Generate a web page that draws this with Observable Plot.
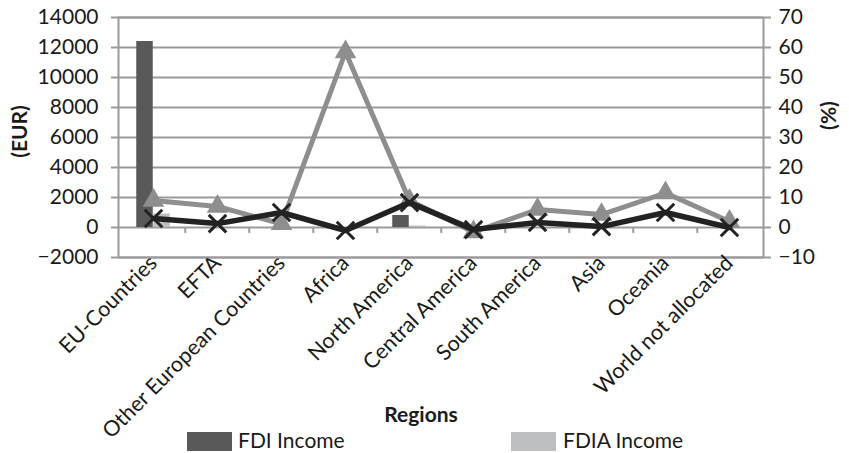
<!DOCTYPE html>
<html>
<head>
<meta charset="utf-8">
<script src="https://cdn.jsdelivr.net/npm/d3@7"></script>
<script src="https://cdn.jsdelivr.net/npm/@observablehq/plot@0.6"></script>
<style>
  body { margin: 0; background: white; }
  #wrap { position: relative; width: 849px; height: 453px; overflow: hidden; font-family: Lato, sans-serif; }
  .sw { position: absolute; height: 19px; width: 45px; }
  .lt { position: absolute; font-size: 21px; color: #1a1a1a; line-height: 1; white-space: nowrap; }
</style>
</head>
<body>
<div id="wrap"></div>
<script>
const regions = ["EU-Countries", "EFTA", "Other European Countries", "Africa", "North America", "Central America", "South America", "Asia", "Oceania", "World not allocated"];
const fdiIncome = [12400, 0, 0, 0, 800, 0, 0, 0, 0, 0];
const fdiaIncome = [900, 0, 0, 0, 100, 0, 0, 0, 0, 0];
const fdiaPct = [9, 7, 1.2, 58.5, 9, -1.5, 6, 4.3, 11.5, 2];
const fdiPct = [3, 1.3, 5, -1, 8.3, -0.7, 1.7, 0.3, 5, 0];
const eurTicks = [-2000, 0, 2000, 4000, 6000, 8000, 10000, 12000, 14000];
const seriesNames = ["FDI Income", "FDIA Income"];
const seriesColors = ["#595959", "#bdbec0"];

const pctToEur = 200; // 70% ↔ 14000 EUR on the shared axis

const data = regions.map((r, i) => ({region: r, fdi: fdiIncome[i], fdia: fdiaIncome[i], pA: fdiaPct[i], pB: fdiPct[i]}));

const W = 849, ML = 118, MR = 86;
const halfBand = (W - ML - MR) / regions.length / 2;
const barW = 17;

const chart = Plot.plot({
  width: W,
  height: 432,
  marginLeft: ML,
  marginRight: MR,
  marginTop: 17,
  marginBottom: 175,
  style: {fontFamily: "Lato, sans-serif", fontSize: "21px", color: "#1a1a1a", background: "white", overflow: "visible"},
  x: {type: "band", domain: regions, padding: 0},
  y: {domain: [-2000, 14000]},
  marks: [
    Plot.ruleY(eurTicks, {stroke: "#9a9a9a", strokeWidth: 2}),
    Plot.frame({stroke: "#9a9a9a", strokeWidth: 2}),
    Plot.ruleX(regions.slice(1), {y1: 0, y2: -400, dx: -halfBand, stroke: "#9a9a9a", strokeWidth: 2}),
    Plot.barY(data, {x: "region", y: "fdi", fill: seriesColors[0], insetLeft: halfBand - barW, insetRight: halfBand}),
    Plot.barY(data, {x: "region", y: "fdia", fill: seriesColors[1], insetLeft: halfBand, insetRight: halfBand - barW}),
    Plot.line(data, {x: "region", y: d => d.pA * pctToEur, stroke: "#8e8e8e", strokeWidth: 5}),
    Plot.dot(data, {x: "region", y: d => d.pA * pctToEur, symbol: "triangle", r: 8, fill: "#8e8e8e", stroke: "none"}),
    Plot.line(data, {x: "region", y: d => d.pB * pctToEur, stroke: "#222", strokeWidth: 5.5}),
    Plot.dot(data, {x: "region", y: d => d.pB * pctToEur, symbol: "times", r: 8, stroke: "#222", strokeWidth: 3}),
    Plot.axisY({anchor: "left", ticks: eurTicks, tickFormat: d3.format("d"), tickSize: 7, tickPadding: 13, stroke: "#9a9a9a", strokeWidth: 2, fill: "#1a1a1a", label: null}),
    Plot.axisY({anchor: "right", ticks: eurTicks, tickFormat: d => d3.format("d")(d / pctToEur), tickSize: 7, tickPadding: 8, stroke: "#9a9a9a", strokeWidth: 2, fill: "#1a1a1a", label: null}),
    Plot.axisX({anchor: "bottom", tickRotate: -45, tickSize: 0, tickPadding: 2, fontSize: 21.5, fill: "#1a1a1a", label: null}),
    Plot.text(["(EUR)"], {frameAnchor: "left", textAnchor: "middle", dx: -98, dy: -6, rotate: -90, fontWeight: "bold", fill: "#1a1a1a"}),
    Plot.text(["(%)"], {frameAnchor: "right", textAnchor: "middle", dx: 66, dy: -22, rotate: -90, fontWeight: "bold", fill: "#1a1a1a"}),
    Plot.text(["Regions"], {frameAnchor: "bottom", dx: -20, dy: 164, fontWeight: "bold", fill: "#1a1a1a", fontSize: 21})
  ]
});

const wrap = document.getElementById("wrap");
wrap.appendChild(chart);

const legendPos = [[187, 238], [511, 563]];
seriesNames.forEach((name, i) => {
  const sw = document.createElement("div");
  sw.className = "sw";
  sw.style.left = legendPos[i][0] + "px";
  sw.style.top = "432px";
  sw.style.background = seriesColors[i];
  wrap.appendChild(sw);
  const t = document.createElement("div");
  t.className = "lt";
  t.style.left = legendPos[i][1] + "px";
  t.style.top = "429px";
  t.textContent = name;
  wrap.appendChild(t);
});
</script>
</body>
</html>
